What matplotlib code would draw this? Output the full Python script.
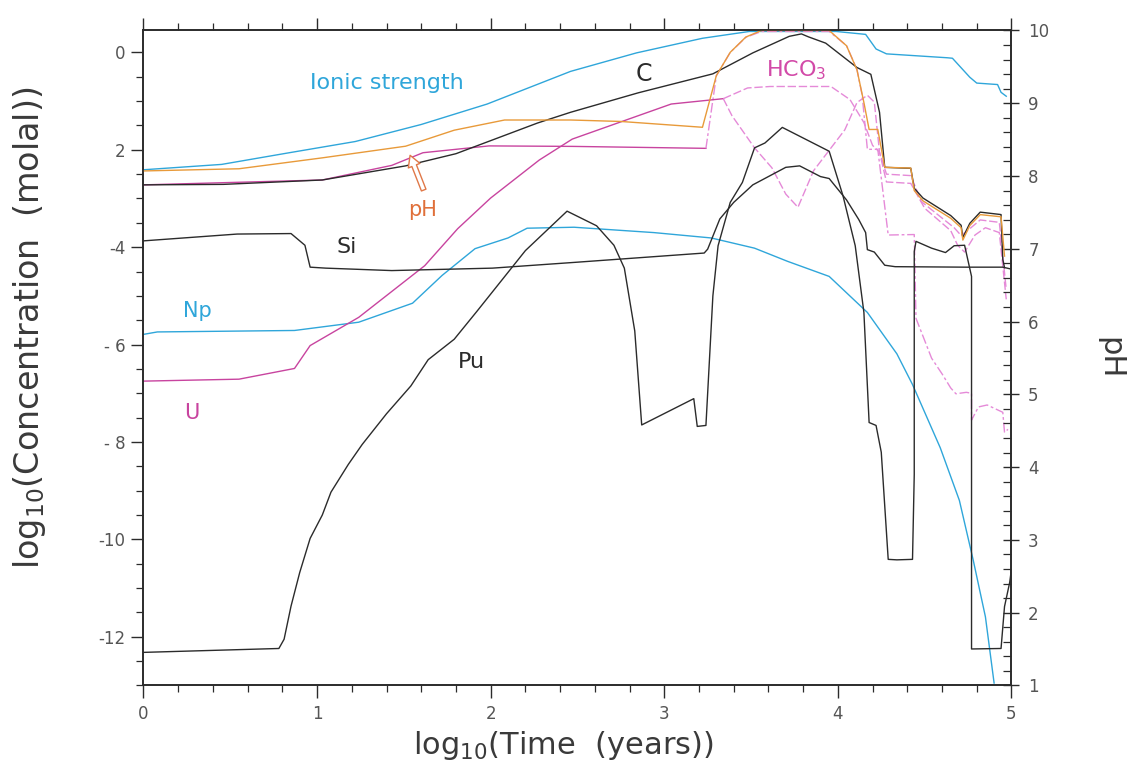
import matplotlib.pyplot as plt
from matplotlib.ticker import MultipleLocator
import numpy as np

# log10(time, years) vs log10(concentration, molal); pH on the right axis
ionic_x = [0.0, 0.45, 0.84, 1.22, 1.60, 1.98, 2.46, 2.84, 3.22, 3.49, 3.99, 4.16, 4.22, 4.28,
           4.63, 4.66, 4.76, 4.80, 4.92, 4.94, 4.97]
ionic_y = [-2.41, -2.30, -2.06, -1.83, -1.48, -1.06, -0.39, -0.01, 0.29, 0.43, 0.43, 0.37, 0.07,
           -0.03, -0.11, -0.12, -0.51, -0.63, -0.66, -0.82, -0.90]

ph_x = [0.0, 0.55, 1.03, 1.51, 1.79, 2.08, 2.46, 2.75, 3.22, 3.30, 3.38, 3.47, 3.56, 3.95, 4.05,
        4.11, 4.15, 4.18, 4.23, 4.27, 4.42, 4.44, 4.49, 4.65, 4.71, 4.72, 4.76, 4.82, 4.94, 4.96]
ph_val = [8.07, 8.10, 8.25, 8.41, 8.63, 8.77, 8.77, 8.75, 8.67, 9.38, 9.70, 9.91, 10.0, 10.0, 9.79,
          9.46, 9.01, 8.64, 8.64, 8.12, 8.11, 7.80, 7.66, 7.42, 7.29, 7.12, 7.32, 7.47, 7.44, 6.90]

c_x = [0.0, 0.46, 1.03, 1.51, 1.80, 2.27, 2.46, 2.85, 3.28, 3.51, 3.72, 3.79, 3.83, 3.93, 4.11,
       4.19, 4.24, 4.27, 4.42, 4.44, 4.49, 4.65, 4.71, 4.72, 4.76, 4.82, 4.94, 4.95, 4.96]
c_y = [-2.72, -2.71, -2.62, -2.33, -2.08, -1.45, -1.23, -0.83, -0.44, -0.01, 0.33, 0.38, 0.32,
       0.19, -0.31, -0.45, -1.23, -2.36, -2.38, -2.79, -2.99, -3.35, -3.55, -3.80, -3.51, -3.28,
       -3.33, -4.25, -4.42]

hco3_x = [3.34, 3.48, 3.61, 3.96, 4.07, 4.15, 4.20, 4.24, 4.28, 4.42, 4.48, 4.67, 4.71, 4.75,
          4.82, 4.93, 4.97]
hco3_y = [-0.95, -0.73, -0.70, -0.70, -0.97, -1.44, -1.91, -2.05, -2.50, -2.53, -3.06, -3.60,
          -3.76, -3.65, -3.44, -3.49, -4.87]

co3_x = [0.0, 1.03, 1.43, 1.61, 1.99, 2.47, 3.24, 3.30, 3.38, 3.47, 3.56, 3.95, 4.05, 4.11, 4.14,
         4.17, 4.23, 4.29, 4.44, 4.45, 4.54, 4.60, 4.65, 4.68, 4.74, 4.77, 4.77, 4.81, 4.86, 4.95,
         4.96, 4.98]
co3_y = [-2.72, -2.62, -2.32, -2.06, -1.92, -1.93, -1.97, -0.48, 0.00, 0.31, 0.43, 0.43, 0.14,
         -0.35, -0.88, -1.99, -1.99, -3.75, -3.74, -5.46, -6.28, -6.60, -6.89, -7.01, -6.98, -7.00,
         -7.55, -7.28, -7.24, -7.39, -7.80, -7.74]

u_x = [0.0, 0.55, 0.87, 0.96, 1.24, 1.62, 1.81, 2.00, 2.28, 2.47, 3.04, 3.34, 3.39, 3.52, 3.62,
       3.70, 3.77, 3.86, 3.95, 4.04, 4.11, 4.17, 4.21, 4.24, 4.28, 4.42, 4.50, 4.65, 4.69, 4.73,
       4.79, 4.85, 4.93, 4.97]
u_y = [-6.75, -6.71, -6.49, -6.02, -5.44, -4.38, -3.62, -2.99, -2.21, -1.78, -1.06, -0.95, -1.30,
       -1.96, -2.37, -2.91, -3.18, -2.43, -2.01, -1.59, -1.03, -0.88, -1.02, -2.05, -2.66, -2.69,
       -3.20, -3.66, -3.96, -4.10, -3.75, -3.60, -3.70, -5.07]

si_x = [0.0, 0.54, 0.85, 0.93, 0.96, 1.05, 1.43, 2.01, 2.49, 3.23, 3.25, 3.32, 3.40, 3.51, 3.70,
        3.78, 3.90, 3.95, 4.05, 4.12, 4.16, 4.17, 4.21, 4.27, 4.33, 4.74, 4.95, 5.0]
si_y = [-3.87, -3.73, -3.72, -3.96, -4.41, -4.43, -4.48, -4.43, -4.31, -4.12, -4.04, -3.42, -3.08,
        -2.72, -2.36, -2.33, -2.55, -2.59, -3.03, -3.43, -3.70, -4.05, -4.10, -4.37, -4.40, -4.41,
        -4.41, -4.45]

np_x = [0.0, 0.08, 0.87, 1.24, 1.55, 1.72, 1.91, 2.10, 2.21, 2.48, 2.94, 3.27, 3.52, 3.71, 3.95,
        4.17, 4.34, 4.43, 4.59, 4.70, 4.78, 4.85, 4.90]
np_y = [-5.79, -5.74, -5.71, -5.54, -5.15, -4.58, -4.03, -3.81, -3.61, -3.59, -3.70, -3.81, -4.02,
        -4.29, -4.60, -5.34, -6.19, -6.82, -8.12, -9.20, -10.43, -11.59, -12.95]

pu_x = [0.0, 0.78, 0.81, 0.85, 0.90, 0.96, 1.03, 1.08, 1.18, 1.26, 1.40, 1.54, 1.64, 1.79, 1.92,
        2.20, 2.44, 2.61, 2.71, 2.77, 2.83, 2.87, 2.92, 3.17, 3.19, 3.24, 3.28, 3.31, 3.38, 3.45,
        3.52, 3.58, 3.68, 3.95, 4.03, 4.10, 4.15, 4.18, 4.22, 4.25, 4.29, 4.34, 4.43, 4.44, 4.44,
        4.45, 4.54, 4.62, 4.67, 4.73, 4.77, 4.77, 4.94, 4.96, 4.99, 5.0]
pu_y = [-12.32, -12.24, -12.05, -11.37, -10.68, -9.98, -9.50, -9.03, -8.46, -8.05, -7.42, -6.85,
        -6.31, -5.89, -5.32, -4.07, -3.26, -3.56, -3.96, -4.43, -5.72, -7.65, -7.56, -7.11, -7.68,
        -7.66, -5.00, -3.97, -3.08, -2.67, -1.96, -1.86, -1.54, -2.03, -2.95, -3.97, -5.34, -7.60,
        -7.66, -8.21, -10.41, -10.42, -10.41, -8.67, -4.09, -3.88, -4.02, -4.11, -3.97, -3.96,
        -4.60, -12.25, -12.24, -11.38, -10.88, -10.61]

conc_ticks = [0, -2, -4, -6, -8, -10, -12]
conc_labels = ['0', '2', '-4', '- 6', '- 8', '-10', '-12']
ph_ticks = list(range(1, 11))
time_ticks = [0, 1, 2, 3, 4, 5]

ink = '#2b2b2b'
cyan = '#2fa6da'
magenta = '#c8449f'
pink = '#e58ad8'
orange = '#e89a3a'
grey = '#555555'


def split_plot(axis, xs, ys, x_split, c1, c2, ls2):
    xs = np.asarray(xs)
    ys = np.asarray(ys)
    k = int(np.searchsorted(xs, x_split))
    axis.plot(xs[:k + 1], ys[:k + 1], color=c1, lw=1.0)
    axis.plot(xs[k:], ys[k:], color=c2, lw=1.0, ls=ls2)


fig = plt.figure(figsize=(11.46, 7.66), dpi=100)
ax = fig.add_axes([0.1252, 0.1051, 0.7574, 0.8551])
ax2 = ax.twinx()

ax.plot(ionic_x, ionic_y, color=cyan, lw=1.0)
ax.plot(np_x, np_y, color=cyan, lw=1.0)
split_plot(ax, co3_x, co3_y, 3.24, magenta, pink, (0, (7, 2, 2, 2)))
split_plot(ax, u_x, u_y, 3.34, magenta, pink, (0, (6, 2)))
ax.plot(hco3_x, hco3_y, color=pink, lw=1.0, ls=(0, (6, 2)))
ax2.plot(ph_x, ph_val, color=orange, lw=1.0)
ax.plot(c_x, c_y, color=ink, lw=1.0)
ax.plot(si_x, si_y, color=ink, lw=1.0)
ax.plot(pu_x, pu_y, color=ink, lw=1.0)

ax.set_xlim(0, 5)
ax.set_ylim(-13, 0.45)
ax2.set_ylim(1, 10)

ax.set_xticks(time_ticks)
ax.set_xticklabels([str(t) for t in time_ticks])
ax.xaxis.set_minor_locator(MultipleLocator(0.2))
ax.set_yticks(conc_ticks)
ax.set_yticklabels(conc_labels)
ax.yaxis.set_minor_locator(MultipleLocator(0.5))
ax2.set_yticks(ph_ticks)
ax2.set_yticklabels([str(p) for p in ph_ticks])
ax2.yaxis.set_minor_locator(MultipleLocator(0.2))

ax.tick_params(axis='x', which='both', top=True, direction='out', colors=ink,
               labelcolor=grey, labelsize=12, pad=5)
ax.tick_params(axis='x', which='major', length=9, width=1)
ax.tick_params(axis='x', which='minor', length=5, width=0.9)
ax.tick_params(axis='y', which='both', direction='out', colors=ink, labelcolor=grey,
               labelsize=12, pad=4)
ax.tick_params(axis='y', which='major', length=9, width=1)
ax.tick_params(axis='y', which='minor', length=5, width=0.9)
ax2.tick_params(axis='y', which='major', direction='inout', length=12, width=1, colors=ink,
                labelcolor=grey, labelsize=12, pad=6)
ax2.tick_params(axis='y', which='minor', direction='in', length=6, width=0.9, colors=ink)

for a in (ax, ax2):
    for s in a.spines.values():
        s.set_color(ink)
        s.set_linewidth(1.2)

ax.text(0.96, -0.62, 'Ionic strength', color=cyan, fontsize=16, va='center')
ax.text(2.88, -0.45, 'C', color=ink, fontsize=17, ha='center', va='center')
ax.text(3.76, -0.36, 'HCO$_3$', color='#d24aa8', fontsize=16, ha='center', va='center')
ax.text(1.61, -3.23, 'pH', color='#e0703a', fontsize=15, ha='center', va='center')
ax.annotate('', xy=(1.53, -2.06), xytext=(1.62, -2.88),
            arrowprops=dict(arrowstyle='simple,head_width=0.9,head_length=0.8,tail_width=0.35',
                            fc='white', ec='#e07848', lw=1))
ax.text(1.17, -4.0, 'Si', color=ink, fontsize=16, ha='center', va='center')
ax.text(0.31, -5.31, 'Np', color=cyan, fontsize=15, ha='center', va='center')
ax.text(0.28, -7.41, 'U', color=magenta, fontsize=15, ha='center', va='center')
ax.text(1.89, -6.35, 'Pu', color=ink, fontsize=16, ha='center', va='center')

fig.text(563 / 1146, 1 - 745 / 766, r'log$_{10}$(Time  (years))', fontsize=22, color='#3a3a3a',
         ha='center', va='center')
fig.text(30 / 1146, 1 - 328 / 766, r'log$_{10}$(Concentration  (molal))', fontsize=24,
         color='#3a3a3a', ha='center', va='center', rotation=90)
fig.text(1110 / 1146, 1 - 358 / 766, 'pH', fontsize=22, color='#3a3a3a', ha='center', va='center',
         rotation=270)

fig.savefig('out.png', dpi=100, facecolor='white')
